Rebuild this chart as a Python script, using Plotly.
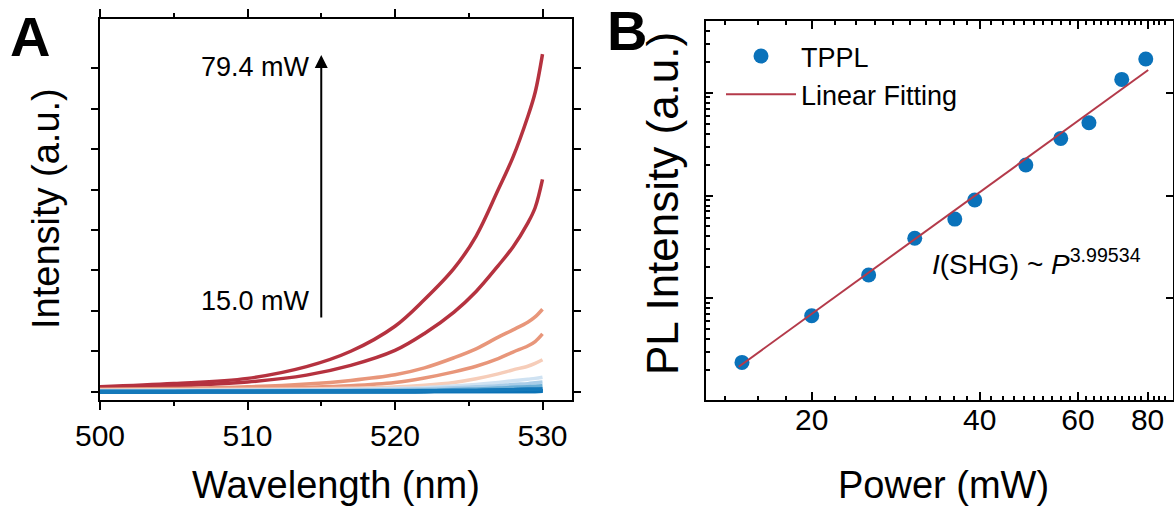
import plotly.graph_objects as go

W, H = 1174, 506
FONT = "Liberation Sans, Arial, sans-serif"

# ---------------- Panel A data: spectra (Intensity, a.u.) ----------------
wavelength = [500, 505, 510, 514, 517, 520, 522, 524, 525.5, 527, 528, 529, 529.5, 530]
spec_15_0 = [0.000, 0.000, 0.000, 0.001, 0.001, 0.002, 0.002, 0.003, 0.004, 0.005, 0.006, 0.007, 0.008, 0.009]
spec_20_0 = [0.000, 0.002, 0.003, 0.004, 0.005, 0.007, 0.009, 0.011, 0.013, 0.016, 0.019, 0.022, 0.024, 0.026]
spec_25_3 = [0.005, 0.006, 0.008, 0.010, 0.013, 0.017, 0.021, 0.027, 0.033, 0.042, 0.050, 0.058, 0.063, 0.070]
spec_30_6 = [0.010, 0.012, 0.015, 0.020, 0.025, 0.033, 0.040, 0.055, 0.070, 0.090, 0.110, 0.125, 0.135, 0.150]
spec_36_1 = [0.020, 0.025, 0.030, 0.035, 0.040, 0.055, 0.070, 0.095, 0.120, 0.150, 0.180, 0.200, 0.220, 0.240]
spec_39_2 = [0.030, 0.035, 0.040, 0.050, 0.060, 0.080, 0.100, 0.140, 0.180, 0.230, 0.270, 0.310, 0.330, 0.360]
spec_48_4 = [0.040, 0.050, 0.060, 0.070, 0.085, 0.115, 0.160, 0.230, 0.320, 0.440, 0.540, 0.630, 0.700, 0.790]
spec_55_9 = [0.050, 0.060, 0.080, 0.110, 0.150, 0.230, 0.340, 0.490, 0.630, 0.820, 0.980, 1.130, 1.240, 1.430]
spec_62_8 = [0.060, 0.080, 0.120, 0.190, 0.280, 0.420, 0.590, 0.840, 1.060, 1.350, 1.530, 1.720, 1.850, 2.040]
spec_71_9 = [0.100, 0.140, 0.240, 0.410, 0.650, 1.020, 1.440, 1.970, 2.480, 3.120, 3.580, 4.170, 4.550, 5.250]
spec_79_4 = [0.120, 0.200, 0.330, 0.620, 1.000, 1.620, 2.280, 3.050, 3.850, 5.000, 5.800, 6.800, 7.400, 8.350]
spectra = [spec_15_0, spec_20_0, spec_25_3, spec_30_6, spec_36_1, spec_39_2,
           spec_48_4, spec_55_9, spec_62_8, spec_71_9, spec_79_4]
spec_colors = ["#0b72b6", "#0b72b6", "#1479ba", "#6aaed6", "#a9cde8", "#cfe2f2",
               "#f6cdb9", "#e8967a", "#e8967a", "#b5323f", "#b5323f"]

# ---------------- Panel B data ----------------
power_mw = [15.0, 20.0, 25.3, 30.6, 36.1, 39.2, 48.4, 55.9, 62.8, 71.9, 79.4]
tppl_intensity = [238, 677, 1686, 3837, 5902, 9036, 19815, 35975, 51050, 134900, 212800]
fit_power = [14.8, 80.2]
fit_intensity = [216, 166300]

a_xticks = [500, 510, 520, 530]
b_xticks = [20, 40, 60, 80]
b_xminor = [v for v in range(14, 88, 2) if v not in b_xticks]
b_ymajor = [1e3, 1e4, 1e5]
b_yminor = [k * 10 ** d for d in range(2, 6) for k in range(2, 10)]

arrow_wl, arrow_low, arrow_high = 515, 1.80, 8.33


def px(x):
    return x / W


def py(y):
    return 1 - y / H


fig = go.Figure()

for s, c in zip(spectra[::-1], spec_colors[::-1]):
    fig.add_trace(go.Scatter(x=wavelength, y=s, mode="lines", line=dict(color=c, width=3.5, shape="spline"),
                             showlegend=False, xaxis="x", yaxis="y", hoverinfo="skip"))
# redraw the dark-blue low-power traces on top
for s, c in zip(spectra[:3], spec_colors[:3]):
    fig.add_trace(go.Scatter(x=wavelength, y=s, mode="lines", line=dict(color=c, width=3.5, shape="spline"),
                             showlegend=False, xaxis="x", yaxis="y", hoverinfo="skip"))

fig.add_trace(go.Scatter(x=power_mw, y=tppl_intensity, mode="markers", name="TPPL",
                         marker=dict(color="#0a72ba", size=15), xaxis="x2", yaxis="y2"))
fig.add_trace(go.Scatter(x=fit_power, y=fit_intensity, mode="lines", name="Linear Fitting",
                         line=dict(color="#b43a4a", width=2), xaxis="x2", yaxis="y2"))
fig.add_trace(go.Scatter(x=[None], y=[None], mode="markers", showlegend=False, xaxis="x2", yaxis="y3"))

axis_common = dict(showgrid=False, zeroline=False, showline=True, linecolor="black", linewidth=2,
                   automargin=False,
                   tickcolor="black", tickwidth=2, tickfont=dict(family=FONT, size=30, color="black"))

fig.update_layout(
    width=W, height=H, margin=dict(l=0, r=0, t=0, b=0, autoexpand=False),
    paper_bgcolor="white", plot_bgcolor="white",
    font=dict(family=FONT, color="black"),
    xaxis=dict(domain=[px(100), px(572)], range=[500, 532], anchor="y",
               tickvals=a_xticks, ticks="outside", ticklen=8, mirror="ticks",
               minor=dict(dtick=5, tick0=500, ticks="outside", ticklen=4, tickwidth=2, tickcolor="black"),
               **axis_common),
    yaxis=dict(domain=[py(400), py(19)], range=[-0.205, 9.218], anchor="x",
               tickvals=list(range(0, 9)), ticks="outside", ticklen=7, mirror="ticks",
               showticklabels=False, **axis_common),
    xaxis2=dict(domain=[px(706), px(1173)], type="log", range=[1.1116, 1.9486], anchor="y2",
                tickvals=b_xticks, ticktext=[str(v) for v in b_xticks], ticks="inside", ticklen=8, mirror="ticks",
                ticklabelstandoff=-8,
                minor=dict(tickvals=b_xminor, ticks="inside", ticklen=4, tickwidth=1.5, tickcolor="black"),
                **axis_common),
    yaxis2=dict(domain=[py(400), py(20.7)], type="log", range=[2.011, 5.701], anchor="x2",
                tickvals=b_ymajor, ticks="inside", ticklen=7, mirror=True, showticklabels=False,
                minor=dict(tickvals=b_yminor, ticks="inside", ticklen=4, tickwidth=1.5, tickcolor="black"),
                **axis_common),
    yaxis3=dict(overlaying="y2", side="right", anchor="x2", type="log", range=[2.011, 5.701],
                tickvals=b_ymajor, ticks="inside", ticklen=7, tickwidth=2, tickcolor="black",
                automargin=False,
                showticklabels=False, showgrid=False, zeroline=False, showline=False),
    legend=dict(x=px(721), y=py(32), xanchor="left", yanchor="top", bgcolor="rgba(0,0,0,0)",
                font=dict(family=FONT, size=27, color="black"), itemwidth=70, tracegroupgap=0),
)

ann = []
ann.append(dict(text="Wavelength (nm)", x=px(336), y=py(485), xref="paper", yref="paper",
                showarrow=False, font=dict(size=38, family=FONT), xanchor="center", yanchor="middle"))
ann.append(dict(text="Power (mW)", x=px(943), y=py(485), xref="paper", yref="paper",
                showarrow=False, font=dict(size=38, family=FONT), xanchor="center", yanchor="middle"))
ann.append(dict(text="Intensity (a.u.)", x=px(46), y=py(209), xref="paper", yref="paper", textangle=-90,
                showarrow=False, font=dict(size=38, family=FONT), xanchor="center", yanchor="middle"))
ann.append(dict(text="PL Intensity (a.u.)", x=px(662), y=py(204), xref="paper", yref="paper", textangle=-90,
                showarrow=False, font=dict(size=44, family=FONT), xanchor="center", yanchor="middle"))
ann.append(dict(text="<b>A</b>", x=px(30), y=py(36), xref="paper", yref="paper",
                showarrow=False, font=dict(size=56, family=FONT), xanchor="center", yanchor="middle"))
ann.append(dict(text="<b>B</b>", x=px(627), y=py(31), xref="paper", yref="paper",
                showarrow=False, font=dict(size=56, family=FONT), xanchor="center", yanchor="middle"))
ann.append(dict(text="79.4 mW", x=px(312), y=py(67), xref="paper", yref="paper",
                showarrow=False, font=dict(size=27, family=FONT), xanchor="right", yanchor="middle"))
ann.append(dict(text="15.0 mW", x=px(312), y=py(301), xref="paper", yref="paper",
                showarrow=False, font=dict(size=27, family=FONT), xanchor="right", yanchor="middle"))
ann.append(dict(text="", x=arrow_wl, y=arrow_high, ax=arrow_wl, ay=arrow_low, xref="x", yref="y",
                axref="x", ayref="y", showarrow=True, arrowhead=2, arrowsize=1.3, arrowwidth=2,
                arrowcolor="black"))
ann.append(dict(text="<i>I</i>(SHG) ~ <i>P</i><sup>3.99534</sup>", x=px(930), y=py(262), xref="paper",
                yref="paper", showarrow=False, font=dict(size=28, family=FONT), xanchor="left",
                yanchor="middle"))
fig.update_layout(annotations=ann)

fig.write_html("out.html", config={"displayModeBar": False},
               post_script="document.body.style.margin='0';document.body.style.overflow='hidden';")
